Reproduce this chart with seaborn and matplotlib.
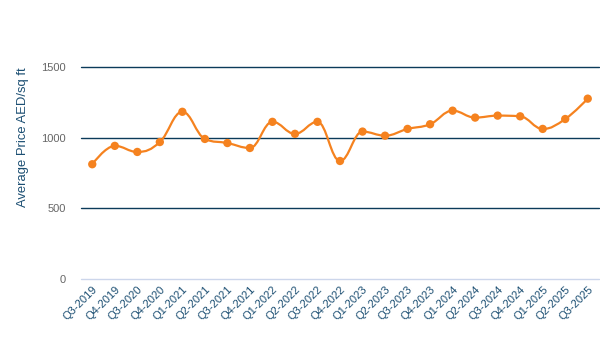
import numpy as np
import pandas as pd
import matplotlib
matplotlib.use("Agg")
import matplotlib.pyplot as plt
from matplotlib.path import Path
from matplotlib.patches import PathPatch
import seaborn as sns

quarters = ["Q3-2019", "Q4-2019", "Q3-2020", "Q4-2020", "Q1-2021", "Q2-2021",
            "Q3-2021", "Q4-2021", "Q1-2022", "Q2-2022", "Q3-2022", "Q4-2022",
            "Q1-2023", "Q2-2023", "Q3-2023", "Q4-2023", "Q1-2024", "Q2-2024",
            "Q3-2024", "Q4-2024", "Q1-2025", "Q2-2025", "Q3-2025"]
prices = [812, 942, 899, 969, 1183, 991, 962, 927, 1112, 1027, 1112, 835,
          1043, 1014, 1062, 1095, 1191, 1142, 1156, 1151, 1062, 1132, 1276]
y_ticks = [0, 500, 1000, 1500]

df = pd.DataFrame({"quarter": quarters, "price": prices})
df["pos"] = np.arange(len(df))

ORANGE = "#f5821f"
NAVY = "#0b3b5a"

sns.set_theme(style="white")
plt.rcParams["font.family"] = ["Liberation Sans", "DejaVu Sans"]

fig = plt.figure(figsize=(6, 3.47), dpi=100)
ax = fig.add_axes([81 / 600, 68 / 347, 518 / 600, 212 / 347])


def spline_path(xs, ys, smoothing=1.5):
    denom = smoothing + 1
    n = len(xs)
    lc = [None] * n
    rc = [None] * n
    for i in range(n):
        x, y = xs[i], ys[i]
        if i == 0 or i == n - 1:
            lc[i] = (x, y)
            rc[i] = (x, y)
            continue
        lx, ly = xs[i - 1], ys[i - 1]
        nx, ny = xs[i + 1], ys[i + 1]
        lcx = (smoothing * x + lx) / denom
        lcy = (smoothing * y + ly) / denom
        rcx = (smoothing * x + nx) / denom
        rcy = (smoothing * y + ny) / denom
        if rcx != lcx:
            corr = ((rcy - lcy) * (rcx - x)) / (rcx - lcx) + y - rcy
            lcy += corr
            rcy += corr
        if lcy > ly and lcy > y:
            lcy = max(ly, y)
            rcy = 2 * y - lcy
        elif lcy < ly and lcy < y:
            lcy = min(ly, y)
            rcy = 2 * y - lcy
        if rcy > ny and rcy > y:
            rcy = max(ny, y)
            lcy = 2 * y - rcy
        elif rcy < ny and rcy < y:
            rcy = min(ny, y)
            lcy = 2 * y - rcy
        lc[i] = (lcx, lcy)
        rc[i] = (rcx, rcy)
    verts = [(xs[0], ys[0])]
    codes = [Path.MOVETO]
    for i in range(1, n):
        verts += [rc[i - 1], lc[i], (xs[i], ys[i])]
        codes += [Path.CURVE4] * 3
    return Path(verts, codes)


# gridlines
for t in y_ticks:
    if t == 0:
        ax.axhline(t, color="#ccd6eb", lw=1.0, zorder=1, clip_on=False)
    else:
        ax.axhline(t, color=NAVY, lw=1.0, zorder=1, clip_on=False)

path = spline_path(df["pos"].astype(float).tolist(), df["price"].astype(float).tolist())
ax.add_patch(PathPatch(path, facecolor="none", edgecolor=ORANGE, lw=1.6, zorder=3,
                       capstyle="round", joinstyle="round"))
sns.scatterplot(data=df, x="pos", y="price", ax=ax, color=ORANGE, s=36,
                edgecolor="none", zorder=4, legend=False)

ax.set_xlim(-0.5, len(quarters) - 0.5)
ax.set_ylim(0, 1500)
ax.set_yticks(y_ticks)
ax.set_yticklabels([str(t) for t in y_ticks], color="#666666", fontsize=8)
ax.set_xticks(df["pos"])
ax.set_xticklabels(quarters, rotation=45, ha="right", rotation_mode="anchor",
                   color="#1b4e72", fontsize=8)
ax.tick_params(axis="both", length=0)
ax.tick_params(axis="y", pad=11)
ax.tick_params(axis="x", pad=4)
for s in ax.spines.values():
    s.set_visible(False)
ax.set_xlabel("")
ax.set_ylabel("Average Price AED/sq ft", color="#1b4e72", fontsize=9.4)
ax.yaxis.set_label_coords(-0.100, 0.67)

fig.savefig("out.png", dpi=100)
